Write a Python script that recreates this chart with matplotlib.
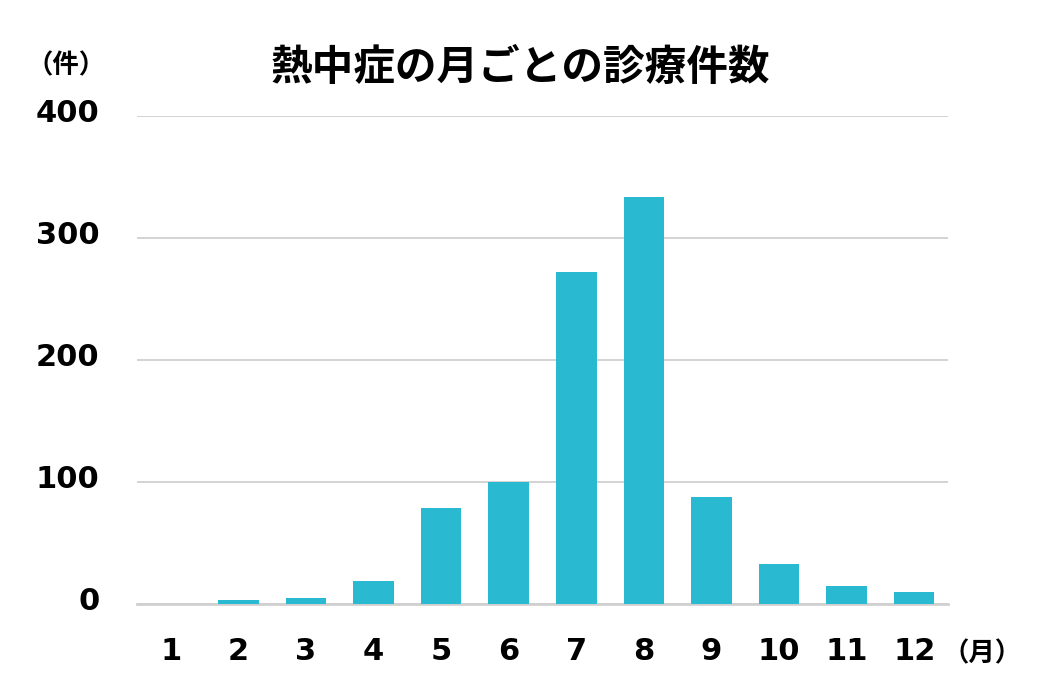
import matplotlib.pyplot as plt
import matplotlib.transforms as mtransforms

plt.rcParams['font.family'] = ['Noto Sans CJK JP', 'DejaVu Sans']

months = ["1", "2", "3", "4", "5", "6", "7", "8", "9", "10", "11", "12"]
counts = [0, 3.5, 5, 19, 79, 100, 272, 334, 88, 33, 15, 10]
yticks = [0, 100, 200, 300, 400]

fig = plt.figure(figsize=(10.41, 6.93), dpi=100)
ax = fig.add_axes([137 / 1041, 1 - 604 / 693, (948 - 137) / 1041, (604 - 116) / 693])

ax.bar(range(len(months)), counts, width=0.6, color="#29B9D1", zorder=3)

ax.set_xlim(-0.5, len(months) - 0.5)
ax.set_ylim(0, 400)
ax.set_yticks(yticks)
ax.set_xticks(range(len(months)))
ax.set_xticklabels(months)
ax.yaxis.grid(True, color="#D0D0D0", linewidth=1.3, zorder=0)
ax.set_axisbelow(True)
for s in ax.spines.values():
    s.set_visible(False)
ax.axhline(0, color="#D0D0D0", linewidth=2, zorder=2, clip_on=False)
ax.tick_params(length=0, labelsize=22)
ax.tick_params(axis="y", pad=27)
ax.tick_params(axis="x", pad=24)
for lbl in ax.get_xticklabels() + ax.get_yticklabels():
    lbl.set_fontweight("bold")
    lbl.set_family("DejaVu Sans")
# y labels sit a little above their gridlines
shift = mtransforms.ScaledTranslation(0, 5 / 100, fig.dpi_scale_trans)
for lbl in ax.get_yticklabels():
    lbl.set_transform(lbl.get_transform() + shift)

fig.text(520 / 1041, 1 - 68 / 693, "熱中症の月ごとの診療件数", ha="center", va="center",
         fontsize=30, fontweight="bold")
fig.text(66 / 1041, 1 - 66 / 693, "（件）", ha="center", va="center",
         fontsize=19, fontweight="bold")
fig.text(982 / 1041, 1 - 654 / 693, "（月）", ha="center", va="center",
         fontsize=19, fontweight="bold")

fig.savefig("out.png", dpi=100)
